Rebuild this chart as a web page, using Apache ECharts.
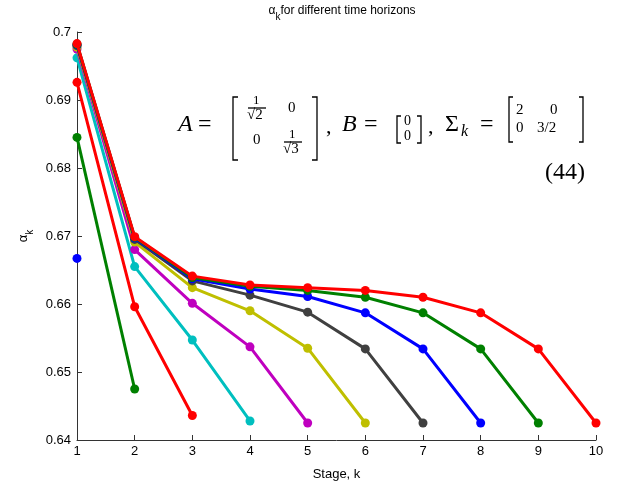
<!DOCTYPE html>
<html>
<head>
<meta charset="utf-8">
<script src="https://cdn.jsdelivr.net/npm/echarts@6/dist/echarts.min.js"></script>
<style>
  html, body { margin: 0; padding: 0; background: #fff; }
  #chart { width: 618px; height: 488px; }
</style>
</head>
<body>
<div id="chart"></div>
<script>
// stages on the x axis
var stages = [1, 2, 3, 4, 5, 6, 7, 8, 9, 10]
var yTicks = [0.64, 0.65, 0.66, 0.67, 0.68, 0.69, 0.70]

// alpha_k for each time horizon N (one array per horizon)
var alphaN1 = [0.6667]
var alphaN2 = [0.6845, 0.6475]
var alphaN3 = [0.6926, 0.6596, 0.6436]
var alphaN4 = [0.6962, 0.6655, 0.6547, 0.6428]
var alphaN5 = [0.6975, 0.6680, 0.6601, 0.6537, 0.6425]
var alphaN6 = [0.6978, 0.6691, 0.6624, 0.6590, 0.6535, 0.6425]
var alphaN7 = [0.6980, 0.6695, 0.6634, 0.6613, 0.6588, 0.6534, 0.6425]
var alphaN8 = [0.6981, 0.6697, 0.6637, 0.6622, 0.6611, 0.6587, 0.6534, 0.6425]
var alphaN9 = [0.6982, 0.6698, 0.6639, 0.6626, 0.6620, 0.6610, 0.6587, 0.6534, 0.6425]
var alphaN10 = [0.6983, 0.6699, 0.6641, 0.6628, 0.6624, 0.6620, 0.6610, 0.6587, 0.6534, 0.6425]

var horizons = [alphaN1, alphaN2, alphaN3, alphaN4, alphaN5, alphaN6, alphaN7, alphaN8, alphaN9, alphaN10]
var colors = ['#0000ff', '#008000', '#ff0000', '#00bfbf', '#bf00bf', '#bfbf00', '#404040', '#0000ff', '#008000', '#ff0000']

var series = horizons.map(function (vals, i) {
  return {
    type: 'line',
    name: 'N=' + (i + 1),
    data: vals.map(function (v, j) { return [stages[j], v] }),
    symbol: 'circle',
    symbolSize: 9,
    showSymbol: true,
    lineStyle: { width: 3, color: colors[i] },
    itemStyle: { color: colors[i] },
    z: 2 + i
  }
})

// equation drawn as text (LaTeX-like annotation)
var serif = 'Liberation Serif'
function txt(x, y, s, size, opts) {
  opts = opts || {}
  return {
    type: 'text', left: x, top: y, z: 50,
    style: {
      text: s, fontFamily: serif, fontSize: size,
      fontStyle: opts.italic ? 'italic' : 'normal',
      fill: '#000'
    }
  }
}
function line(pts) {
  return {
    type: 'polyline', z: 50,
    shape: { points: pts },
    style: { stroke: '#000', lineWidth: 1.3, fill: null }
  }
}

var eq = [
  txt(178, 113, 'A', 24, { italic: true }),
  txt(198, 113, '=', 24),
  line([[238, 97], [233, 97], [233, 160], [238, 160]]),
  txt(253, 94, '1', 13),
  line([[248, 108], [266, 108]]),
  txt(247, 108, '\u221A2', 15),
  txt(288, 101, '0', 15),
  txt(253, 133, '0', 15),
  txt(289, 128, '1', 13),
  line([[284, 142], [302, 142]]),
  txt(283, 142, '\u221A3', 15),
  line([[312, 97], [317, 97], [317, 160], [312, 160]]),
  txt(326, 116, ',', 22),
  txt(342, 113, 'B', 24, { italic: true }),
  txt(364, 113, '=', 24),
  line([[401, 116], [397, 116], [397, 143], [401, 143]]),
  txt(404, 114, '0', 14),
  txt(404, 129, '0', 14),
  line([[417, 116], [421, 116], [421, 143], [417, 143]]),
  txt(428, 116, ',', 22),
  txt(445, 113, '\u03A3', 24),
  txt(461, 124, 'k', 16, { italic: true }),
  txt(480, 113, '=', 24),
  line([[513, 97], [509, 97], [509, 142], [513, 142]]),
  txt(516, 103, '2', 15),
  txt(550, 103, '0', 15),
  txt(516, 121, '0', 15),
  txt(537, 121, '3/2', 15),
  line([[579, 97], [583, 97], [583, 142], [579, 142]]),
  txt(545, 161, '(44)', 24)
]

var chart = echarts.init(document.getElementById('chart'))
chart.setOption({
  animation: false,
  backgroundColor: '#fff',
  title: {
    text: '{a|\u03B1}{s|k}{b|for different time horizons}',
    left: 337,
    top: 0,
    textAlign: 'center',
    textStyle: {
      fontWeight: 'normal',
      rich: {
        a: { fontFamily: 'Liberation Sans', fontSize: 12, fontWeight: 'normal', color: '#000', verticalAlign: 'top', lineHeight: 17 },
        s: { fontFamily: 'Liberation Sans', fontSize: 10, fontWeight: 'normal', color: '#000', verticalAlign: 'bottom', lineHeight: 17 },
        b: { fontFamily: 'Liberation Sans', fontSize: 12, fontWeight: 'normal', color: '#000', verticalAlign: 'top', lineHeight: 17 }
      }
    }
  },
  grid: { left: 77, right: 22, top: 32, bottom: 48 },
  xAxis: {
    type: 'value',
    min: 1,
    max: 10,
    interval: 1,
    name: 'Stage, k',
    nameLocation: 'middle',
    nameGap: 28,
    nameTextStyle: { fontFamily: 'Liberation Sans', fontSize: 13, color: '#000' },
    axisLine: { lineStyle: { color: '#333', width: 1 } },
    axisTick: { inside: true, length: 5, lineStyle: { color: '#333' } },
    axisLabel: { fontFamily: 'Liberation Sans', fontSize: 13, color: '#000', margin: 5 },
    splitLine: { show: false }
  },
  yAxis: {
    type: 'value',
    min: yTicks[0],
    max: yTicks[yTicks.length - 1],
    interval: 0.01,
    name: '{a|\u03B1}{s|k}',
    nameLocation: 'middle',
    nameGap: 29,
    nameRotate: 90,
    nameTextStyle: {
      rich: {
        a: { fontFamily: 'Liberation Sans', fontSize: 13, color: '#000', verticalAlign: 'top', lineHeight: 18 },
        s: { fontFamily: 'Liberation Sans', fontSize: 10, color: '#000', verticalAlign: 'bottom', lineHeight: 18 }
      }
    },
    axisLine: { show: true, lineStyle: { color: '#333', width: 1 } },
    axisTick: { show: true, inside: true, length: 5, lineStyle: { color: '#333' } },
    axisLabel: {
      fontFamily: 'Liberation Sans', fontSize: 13, color: '#000', margin: 6,
      formatter: function (v) { return String(Math.round(v * 100) / 100) }
    },
    splitLine: { show: false }
  },
  graphic: eq,
  series: series
})
</script>
</body>
</html>
